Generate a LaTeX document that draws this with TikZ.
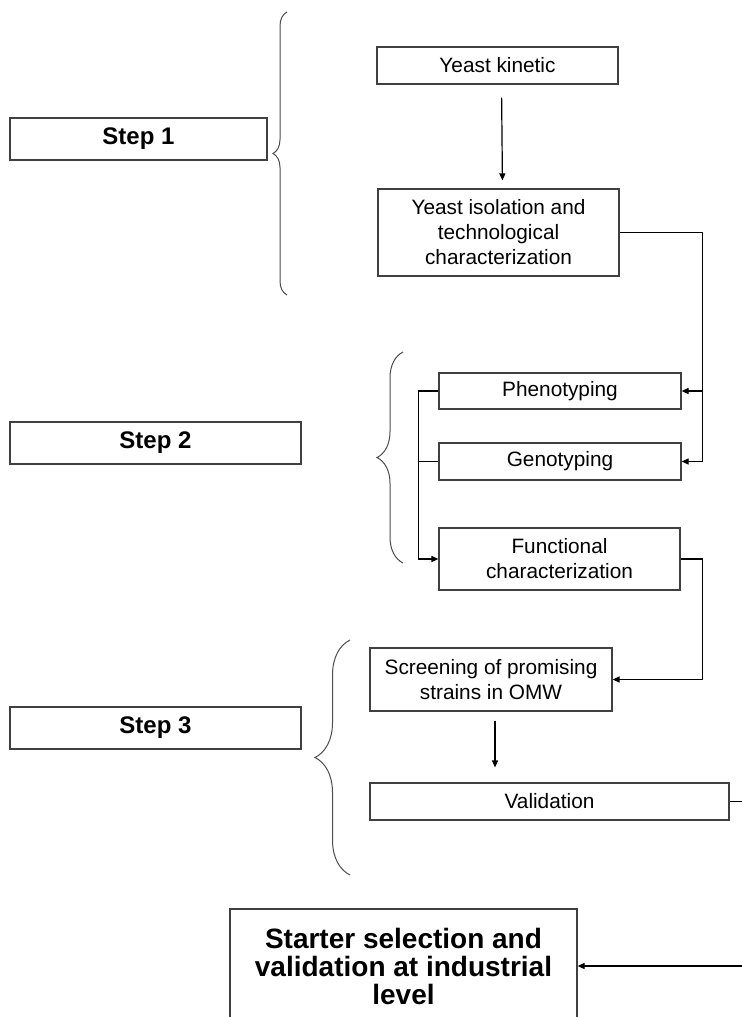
\documentclass[tikz,border=0pt]{standalone}
\usepackage{fontspec}
\setmainfont{Liberation Sans}
\usetikzlibrary{arrows.meta,decorations.pathreplacing}

\begin{document}
\begin{tikzpicture}[x=0.5pt, y=-0.5pt,
    box/.style={draw=black!75, line width=0.6pt, inner sep=0pt, align=center, font=\fontsize{10.4}{12.5}\selectfont},
    stepbox/.style={draw=black!75, line width=0.6pt, minimum height=21pt, inner sep=0pt, font=\fontsize{12}{14}\selectfont\bfseries},
    wire/.style={line width=0.6pt},
    link/.style={line width=0.6pt, -{Triangle[length=3.5pt,width=3pt]}},
    bracket/.style={draw=black!70, line width=0.5pt, decorate, decoration={brace, amplitude=#1}}]
    \useasboundingbox (0,0) rectangle (741,1017);

    % Step labels on the left
    \node[stepbox, minimum width=128.5pt] (step1) at (138.5,139) {Step 1};
    \node[stepbox, minimum width=145.5pt] (step2) at (155.5,443) {Step 2};
    \node[stepbox, minimum width=145.5pt] (step3) at (155.5,728) {Step 3};

    % Braces grouping the boxes of each step
    \draw[bracket=7pt] (287,295) -- (287,12);
    \draw[bracket=13pt] (403,563) -- (403,352);
    \draw[bracket=17.5pt] (350,875) -- (350,640);

    % Boxes of the work flow
    \node[box, minimum width=120.5pt, minimum height=18.5pt] (kinetic) at (497.5,65.5) {Yeast kinetic};
    \node[box, minimum width=120.5pt, minimum height=43.5pt] (isolation) at (498.5,232.5) {Yeast isolation and\\technological\\characterization};
    \node[box, minimum width=121pt, minimum height=18pt] (pheno) at (560,391) {Phenotyping};
    \node[box, minimum width=121pt, minimum height=18.5pt] (geno) at (560,461.5) {Genotyping};
    \node[box, minimum width=120.5pt, minimum height=31pt] (func) at (559.5,559) {Functional\\characterization};
    \node[box, minimum width=121pt, minimum height=31.5pt] (screen) at (491,679.5) {Screening of promising\\strains in OMW};
    \node[box, minimum width=179.5pt, minimum height=18.5pt] (valid) at (549.5,801.5) {Validation};
    \node[box, minimum width=173.5pt, minimum height=57pt, font=\fontsize{14}{14}\selectfont\bfseries] (starter) at (403.5,966) {Starter selection and\\validation at industrial\\level};

    % Connectors
    \draw[link, shorten <=6.5pt, shorten >=4pt] ([xshift=2pt]kinetic.south) -- ([xshift=2pt]isolation.north);
    \draw[link] (isolation.east) -- ++(83,0) |- (geno.east);
    \draw[link] (pheno.east) ++(21,0) -- (pheno.east);
    \draw[link] (pheno.west) -- ++(-20,0) |- (func.west);
    \draw[wire] (geno.west) -- ++(-20,0);
    \draw[link] (func.east) -- ++(22,0) |- (screen.east);
    \draw[link, shorten <=4.5pt, shorten >=7.5pt] ([xshift=2pt]screen.south) -- ([xshift=2pt]screen.south |- valid.north);
    \draw[link] (valid.east) -- ++(16,0) |- (starter.east);
\end{tikzpicture}
\end{document}
